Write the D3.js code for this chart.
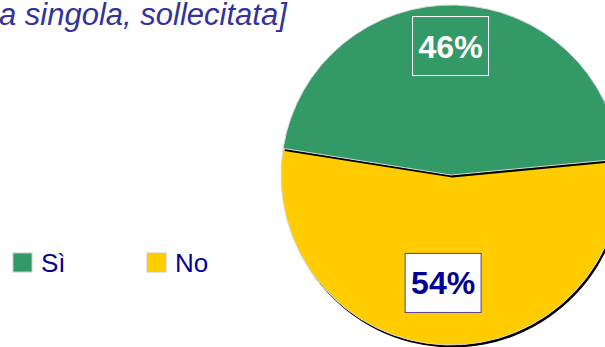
<!DOCTYPE html>
<html>
<head>
<meta charset="utf-8">
<script src="https://cdn.jsdelivr.net/npm/d3@7"></script>
<style>
  html, body { margin: 0; padding: 0; background: #fff; overflow: hidden; }
  svg { display: block; }
</style>
</head>
<body>
<svg id="chart" width="605" height="347"></svg>
<script>
// Answer categories, shares (%) and colours
const categories = ["Sì", "No"];
const values = [46, 54];
const colors = ["#339966", "#FFCC00"];
const titleText = "a singola, sollecitata]";

const svg = d3.select("#chart");
const cx = 451, cy = 175, R = 170;

// Title (runs in from the left edge)
svg.append("text")
  .attr("x", -1).attr("y", 25)
  .attr("font-family", "Liberation Sans, Arial, sans-serif")
  .attr("font-style", "italic")
  .attr("font-size", 31)
  .attr("fill", "#333399")
  .text(titleText);

// Pie
const startA = -81 * Math.PI / 180;
const pie = d3.pie().sort(null).value(d => d)
  .startAngle(startA).endAngle(startA + 2 * Math.PI);
const arcs = pie(values).map((a, i) => ({ ...a, i }));
const arc = d3.arc().innerRadius(0).outerRadius(R);

const g = svg.append("g").attr("transform", `translate(${cx},${cy})`);
// Draw "No" first, then "Sì" so its shadow falls over the boundary
[1, 0].forEach(i => {
  const d = arcs[i];
  g.append("path")
    .attr("d", arc(d))
    .attr("transform", "translate(1.5,2.5)")
    .attr("fill", "#000");
  g.append("path")
    .attr("d", arc(d))
    .attr("fill", colors[i])
    .attr("stroke", "#d8d8d8")
    .attr("stroke-width", 1);
});

// Percentage labels in boxes
const labelStyle = [
  { fill: "none", stroke: "#ffffff", text: "#ffffff", r: 129 },
  { fill: "#ffffff", stroke: "#5b3a9c", text: "#000099", r: 108 }
];
arcs.forEach(d => {
  const mid = (d.startAngle + d.endAngle) / 2;
  const s = labelStyle[d.i];
  const lx = Math.sin(mid) * s.r - 4.5, ly = -Math.cos(mid) * s.r;
  const bw = 76, bh = 59;
  g.append("rect")
    .attr("x", lx - bw / 2).attr("y", ly - bh / 2)
    .attr("width", bw).attr("height", bh)
    .attr("fill", s.fill).attr("stroke", s.stroke).attr("stroke-width", 1);
  g.append("text")
    .attr("x", lx).attr("y", ly + 11.5)
    .attr("text-anchor", "middle")
    .attr("font-family", "Liberation Sans, Arial, sans-serif")
    .attr("font-weight", "bold")
    .attr("font-size", 32)
    .attr("fill", s.text)
    .text(d3.format(".0f")(d.data) + "%");
});

// Legend
const legX = [13, 147];
categories.forEach((c, i) => {
  const lg = svg.append("g").attr("transform", `translate(${legX[i]},253)`);
  lg.append("rect")
    .attr("width", 19).attr("height", 19)
    .attr("fill", colors[i]).attr("stroke", "#c8c8c8").attr("stroke-width", 1);
  lg.append("text")
    .attr("x", 28).attr("y", 19)
    .attr("font-family", "Liberation Sans, Arial, sans-serif")
    .attr("font-size", 26)
    .attr("fill", "#000099")
    .text(c);
});
</script>
</body>
</html>
